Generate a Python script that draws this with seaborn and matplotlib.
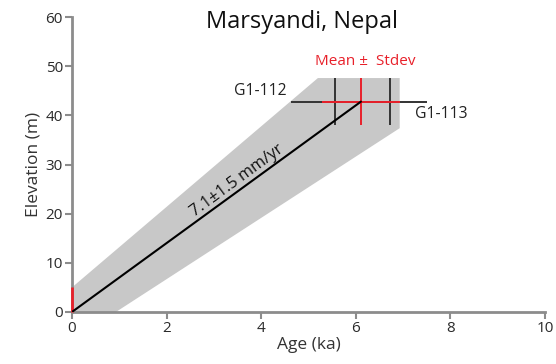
"""Marsyandi terrace incision rate: age vs elevation."""

import matplotlib.pyplot as plt
import numpy as np
import pandas as pd
import seaborn as sns

# envelope of possible rates (age ka, elevation m)
envelope_age = [0.0, 0.0, 5.2, 6.93, 6.93, 0.93]
envelope_elev = [0.0, 5.0, 47.6, 47.6, 37.4, 0.0]

# individual samples
sample_names = ["G1-112", "G1-113"]
sample_age = [5.56, 6.72]
sample_age_err = [0.93, 0.78]
sample_elev = [42.8, 42.8]
sample_elev_err = [4.8, 4.8]

# mean of the two samples
mean_age = 6.11
mean_age_err = 0.82
mean_elev = 42.8
mean_elev_err = 4.8

# modern river level with its uncertainty
origin_elev_err = 5.0

rate_label = "7.1±1.5 mm/yr"

sns.set_theme(style="ticks")
plt.rcParams["font.family"] = ["Open Sans", "DejaVu Sans"]

grey = "#8c8c8c"
red = "#e8202a"

fig, ax = plt.subplots(figsize=(5.56, 3.64), dpi=100)
fig.subplots_adjust(left=0.1295, right=0.98, bottom=0.143, top=0.953)

ax.fill(envelope_age, envelope_elev, color="#c8c8c8", lw=0, zorder=1)

# sample error bars (black)
for a, ae, e, ee in zip(sample_age, sample_age_err, sample_elev, sample_elev_err):
    ax.errorbar(a, e, xerr=ae, yerr=ee, fmt="none", ecolor="#333333",
                elinewidth=1.4, capsize=0, zorder=2)

# mean error bars (red)
ax.errorbar(mean_age, mean_elev, xerr=mean_age_err, yerr=mean_elev_err,
            fmt="none", ecolor=red, elinewidth=1.4, capsize=0, zorder=3)
ax.errorbar(0, origin_elev_err / 2, yerr=origin_elev_err / 2, fmt="none",
            ecolor=red, elinewidth=2, capsize=0, zorder=3, clip_on=False)

# best-fit rate line
line = pd.DataFrame({"age": [0.0, mean_age], "elev": [0.0, mean_elev]})
sns.lineplot(data=line, x="age", y="elev", color="black", lw=1.5, ax=ax, zorder=4)

ax.set_xlim(0, 10)
ax.set_ylim(0, 60)
ax.set_xticks(np.arange(0, 11, 2))
ax.set_yticks(np.arange(0, 61, 10))
ax.set_xlabel("Age (ka)", fontsize=12.5, color="#333333", labelpad=1)
ax.set_ylabel("Elevation (m)", fontsize=12.5, color="#333333", labelpad=3)
ax.tick_params(labelsize=11, colors=grey, labelcolor="#2a2a2a",
               length=5, width=1.5, pad=1.5)
for side in ["top", "right"]:
    ax.spines[side].set_visible(False)
for side in ["left", "bottom"]:
    ax.spines[side].set_color(grey)
    ax.spines[side].set_linewidth(2)

ax.text(4.86, 59, "Marsyandi, Nepal", fontsize=17, ha="center", va="center",
        color="#111111")
ax.text(6.2, 50.9, "Mean ±  Stdev", fontsize=11, color=red, ha="center", va="center")
ax.text(4.53, 45.0, sample_names[0], fontsize=11.3, ha="right", va="center",
        color="#222222")
ax.text(7.25, 40.3, sample_names[1], fontsize=11.3, ha="left", va="center",
        color="#222222")
ax.text(3.6, 25.5, rate_label, fontsize=11.8, rotation=36.3, rotation_mode="anchor",
        ha="center", va="bottom", color="#111111")

fig.savefig("out.png", dpi=100)
